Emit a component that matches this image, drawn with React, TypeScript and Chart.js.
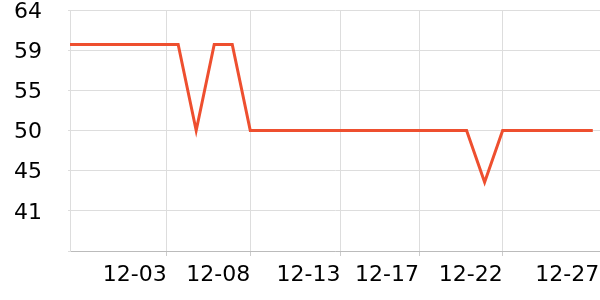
import React, { useEffect, useRef } from 'react';
import { Chart, registerables } from 'chart.js';

Chart.register(...registerables);

// Daily values (index 0..29)
const values: number[] = [
  60, 60, 60, 60, 60, 60, 60, 50, 60, 60,
  50, 50, 50, 50, 50, 50, 50, 50, 50, 50,
  50, 50, 50, 44, 50, 50, 50, 50, 50, 50,
];
const xTickPositions: number[] = [5.36, 10, 15, 19.36, 24, 29.36];
const xTickLabels: string[] = ['12-03', '12-08', '12-13', '12-17', '12-22', '12-27'];
const yTickValues: number[] = [36, 40.667, 45.333, 50, 54.667, 59.333, 64];
const yTickLabels: string[] = ['', '41', '45', '50', '55', '59', '64'];

const FONT = { family: 'DejaVu Sans', size: 22 };

export default function App() {
  const ref = useRef<HTMLCanvasElement | null>(null);

  useEffect(() => {
    if (!ref.current) return;
    const lastX = xTickPositions.length - 1;
    const chart = new Chart(ref.current, {
      type: 'line',
      data: {
        datasets: [
          {
            data: values.map((v, i) => ({ x: i, y: v })),
            borderColor: '#ee4f2f',
            borderWidth: 3,
            pointRadius: 0,
            tension: 0,
            fill: false,
          },
        ],
      },
      options: {
        responsive: false,
        animation: false,
        layout: { padding: { top: 10, left: 0, right: 0, bottom: 0 } },
        plugins: { legend: { display: false }, tooltip: { enabled: false } },
        scales: {
          x: {
            type: 'linear',
            min: 0,
            max: 29.4,
            afterBuildTicks: (s: any) => {
              s.ticks = xTickPositions.map((v) => ({ value: v }));
            },
            afterFit: (s: any) => {
              s.height = 49;
              s.paddingLeft = 0;
              s.paddingRight = 0;
            },
            ticks: {
              align: 'end',
              autoSkip: false,
              maxRotation: 0,
              minRotation: 0,
              padding: 6,
              font: FONT,
              color: '#000',
              callback: (_v: any, i: number) => xTickLabels[i],
            },
            grid: {
              color: (ctx: any) => (ctx.index === lastX ? 'rgba(0,0,0,0)' : '#dddddd'),
              tickColor: (ctx: any) => (ctx.index === lastX ? 'rgba(0,0,0,0)' : '#cccccc'),
              tickLength: 5,
            },
            border: { color: '#bbbbbb' },
          },
          y: {
            type: 'linear',
            min: 36,
            max: 64,
            afterBuildTicks: (s: any) => {
              s.ticks = yTickValues.map((v) => ({ value: v }));
            },
            afterFit: (s: any) => {
              s.width = 70;
              s.paddingTop = 0;
              s.paddingBottom = 0;
            },
            ticks: {
              padding: 26,
              labelOffset: 2,
              font: FONT,
              color: '#000',
              callback: (_v: any, i: number) => yTickLabels[i],
            },
            grid: { color: '#dddddd', tickColor: '#dddddd', tickLength: 2 },
            border: { color: '#dddddd' },
          },
        },
      },
    } as any);
    return () => chart.destroy();
  }, []);

  return (
    <div style={{ position: 'absolute', left: 0, top: 0, width: 600, height: 300 }}>
      <canvas ref={ref} width={600} height={300} style={{ width: 600, height: 300 }} />
    </div>
  );
}
